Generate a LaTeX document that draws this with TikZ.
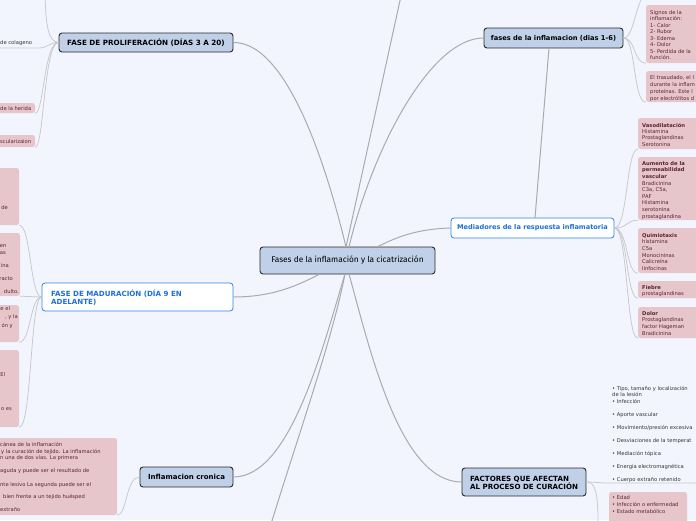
\documentclass[tikz,border=0pt]{standalone}
\usepackage{fontspec}
\setmainfont{DejaVu Sans}
\newfontfamily\handfont{Fira Sans}
\usetikzlibrary{fit}
\definecolor{bg}{HTML}{F2F5FE}
\definecolor{nodefill}{HTML}{BFD0E8}
\definecolor{nodeborder}{HTML}{2A2A2A}
\definecolor{blueb}{HTML}{2E86E6}
\definecolor{bluetext}{HTML}{1E6FD6}
\definecolor{pinkfill}{HTML}{E7C6CB}
\definecolor{pinktext}{HTML}{5A2331}
\definecolor{linegrey}{HTML}{C8C8CA}
\definecolor{maingrey}{HTML}{ABABAE}
\definecolor{plaintext}{HTML}{333333}
\newcommand{\fls}{\rule{0pt}{5pt}}
\newcommand{\flb}{\rule{0pt}{7pt}}
\begin{document}
\begin{tikzpicture}[x=1pt,y=-1pt,
  mainbox/.style={draw=nodeborder, line width=0.9pt, fill=nodefill, rounded corners=3pt, inner sep=0pt},
  bluebox/.style={draw=blueb, line width=0.8pt, fill=white, rounded corners=3pt, inner sep=0pt},
  pinkbox/.style={fill=pinkfill, rounded corners=2.5pt, inner sep=0pt},
  lbl/.style={font=\fontsize{7}{8}\selectfont\bfseries, text=black, inner sep=0pt},
  bluelbl/.style={font=\fontsize{6.6}{8}\selectfont\bfseries, text=bluetext, inner sep=0pt},
  ptext/.style={font=\fontsize{5.2}{6.5}\selectfont, text=pinktext, align=left, inner sep=0pt, anchor=north west},
  ftext/.style={font=\fontsize{5.2}{6.5}\selectfont, text=pinktext, inner sep=0pt},
  gtext/.style={font=\fontsize{5.2}{6.5}\selectfont, text=plaintext, align=left, inner sep=0pt, anchor=north west},
  conn/.style={draw=linegrey, line width=0.75pt},
  mainconn/.style={draw=maingrey, line width=1pt}]
\useasboundingbox (0,0) rectangle (696,520);
\fill[bg] (0,0) rectangle (696,520);
\clip (0,0) rectangle (696,520);

% ---------- main nodes ----------
\node[mainbox, fit={(260,247)(435,274)}] (center) {};
\node[font=\handfont\fontsize{8.3}{9}\selectfont, inner sep=0pt] (centertext) at (center) {Fases de la inflamación y la cicatrización};

\node[mainbox, fit={(59,33)(233,52)}] (prolif) {};
\node[lbl, font=\fontsize{7.2}{8}\selectfont\bfseries] (prolifl) at (prolif) {FASE DE PROLIFERACIÓN (DÍAS 3 A 20)};

\node[mainbox, fit={(484,28)(623,48)}] (fases) {};
\node[lbl, font=\fontsize{6.7}{8}\selectfont\bfseries] (fasesl) at (fases) {fases de la inflamacion (dias 1-6)};

\node[bluebox, fit={(451,218)(614,238)}] (medi) {};
\node[bluelbl] (medil) at (medi) {Mediadores de la respuesta inflamatoria};

\node[bluebox, fit={(42,283)(233,311)}] (madur) {};
\node[bluelbl, align=left, anchor=north west, font=\fontsize{7.1}{8}\selectfont\bfseries] (madurl) at (51,289.5) {\flb FASE DE MADURACIÓN (DÍA 9 EN\\ADELANTE)};

\node[mainbox, fit={(140,467)(233,487)}] (cronica) {};
\node[lbl] (cronical) at (cronica) {Inflamacion cronica};

\node[mainbox, fit={(462,468)(586,496)}] (factores) {};
\node[lbl, align=left, anchor=north west, font=\fontsize{7.1}{8}\selectfont\bfseries] (factoresl) at (470,474) {\flb FACTORES QUE AFECTAN\\AL PROCESO DE CURACIÓN};

% ---------- junction coordinates ----------
\coordinate (ctop1) at (346,247);
\coordinate (ctop2) at (349,247);
\coordinate (ctopm) at (377,247);
\coordinate (cbot1) at (320,274);
\coordinate (cbot2) at (345,274);
\coordinate (cbot3) at (349,274);
\coordinate (topend) at (401,-4);
\coordinate (botend) at (271,524);

% ---------- main connectors ----------
\draw[mainconn] (ctop1) -- (topend);
\draw[mainconn] (prolif.east) .. controls (290,42) and (330,180) .. (ctop1);
\draw[mainconn] (fases.west) .. controls (430,38) and (372,150) .. (ctop2);
\draw[mainconn] (medi.west) .. controls (415,229) and (395,238) .. (ctopm);
\draw[mainconn] (madur.east) .. controls (275,297) and (300,284) .. (cbot1);
\draw[mainconn] (cronica.east) .. controls (290,477) and (322,350) .. (cbot2);
\draw[mainconn] (cbot2) .. controls (332,340) and (300,430) .. (botend);
\draw[mainconn] (factores.west) .. controls (400,482) and (370,350) .. (cbot3);
\coordinate (fs) at (549,48);
\coordinate (mn) at (535,218);
\draw[mainconn] (fs) -- (mn);

% ---------- left: proliferacion children ----------
\node[pinkbox, fit={(-10,103)(35,113)}] (herida) {};
\node[ftext, anchor=base west] (heridat) at (0,110.5) {de la herida};
\node[pinkbox, fit={(-10,135)(35,147)}] (vascu) {};
\node[ftext, anchor=base west] (vascut) at (0,143) {scularizaion};
\node[ftext, text=plaintext, anchor=base west] (colageno) at (0,44) {de colageno};
\coordinate (colend) at (40,48);
\coordinate (prolup) at (45,-4);

\draw[conn] (prolif.west) .. controls (48,42) and (46,25) .. (prolup);
\draw[conn] (prolif.west) .. controls (50,42) and (47,48) .. (colend) -- (0,48);
\draw[conn] (prolif.west) .. controls (44,42) and (44,113) .. (herida.south east);
\draw[conn] (prolif.west) .. controls (44,42) and (44,147) .. (vascu.south east);

% ---------- left: maduracion children ----------
\node[pinkbox, fit={(-10,168)(19,225)}] (m1) {};
\node[ftext, anchor=base east] (m1a) at (8,209) {de};
\node[pinkbox, fit={(-10,233)(20,296)}] (m2) {};
\node[ftext, anchor=base east] (m2a) at (6.5,247) {en};
\node[ftext, anchor=base east] (m2b) at (6,254) {as};
\node[ftext, anchor=base east] (m2c) at (9,267) {ina};
\node[ftext, anchor=base east] (m2d) at (13,280) {racto};
\node[ftext, anchor=base east] (m2e) at (19,293) {dulto.};
\node[pinkbox, fit={(-10,305)(19,342)}] (m3) {};
\node[ftext, anchor=base west] (m3a) at (0.3,310) {e el};
\node[ftext, anchor=base east] (m3b) at (18,318.5) {, y la};
\node[ftext, anchor=base east] (m3c) at (13,327) {ón y};
\node[pinkbox, fit={(-10,350)(19,427)}] (m4) {};
\node[ftext, anchor=base west] (m4a) at (0.3,376.5) {El};
\node[ftext, anchor=base east] (m4b) at (12,410.5) {o es};

\draw[conn] (madur.west) .. controls (30,297) and (31,225) .. (m1.south east);
\draw[conn] (madur.west) -- (m2.south east);
\draw[conn] (madur.west) .. controls (30,297) and (31,342) .. (m3.south east);
\draw[conn] (madur.west) .. controls (30,297) and (32,427) .. (m4.south east);

% ---------- left: cronica child ----------
\node[pinkbox, fit={(-10,438)(117,515)}] (cr) {};
\node[ftext, anchor=base west] (cr1) at (0,446) {cánea de la inflamación};
\node[ftext, anchor=base west] (cr2) at (1,453) {y la curación de tejido. La inflamación};
\node[ftext, anchor=base west] (cr3) at (0,459.5) {n una de dos vías. La primera};
\node[ftext, anchor=base west] (cr4) at (0,472) {aguda y puede ser el resultado de};
\node[ftext, anchor=base west] (cr5) at (0,486) {nte lesivo La segunda puede ser el};
\node[ftext, anchor=base west] (cr6) at (3,498) {bien frente a un tejido huésped};
\node[ftext, anchor=base west] (cr7) at (0,511) {extraño};
\draw[conn] (cronica.west) .. controls (126,477) and (127,515) .. (cr.south east);

% ---------- right: fases children ----------
\node[pinkbox, fit={(646,5)(705,63)}] (signos) {};
\node[ptext] (signost) at (650,9) {\fls Signos de la\\inflamación:\\1- Calor\\2- Rubor\\3- Edema\\4- Dolor\\5- Perdida de la\\función.};
\node[pinkbox, fit={(646,71)(705,102)}] (trasu) {};
\node[ptext, font=\fontsize{5.2}{7}\selectfont] (trasut) at (650,74) {\fls El trasudado, el l\\durante la inflam\\proteínas. Este l\\por electrólitos d};
\coordinate (fasesup) at (643,-4);
\draw[conn] (fases.east) .. controls (633,38) and (634,12) .. (fasesup);
\draw[conn] (fases.east) .. controls (636,38) and (633,63) .. (signos.south west);
\draw[conn] (fases.east) .. controls (636,38) and (633,102) .. (trasu.south west);

% ---------- right: mediadores children ----------
\node[pinkbox, fit={(638,118)(705,149)}] (vaso) {};
\node[ptext, font=\fontsize{5.2}{6.3}\selectfont] (vasot) at (642,122) {\fls\textbf{Vasodilatación}\\Histamina\\Prostaglandinas\\Serotonina};
\node[pinkbox, fit={(638,157)(705,220)}] (aum) {};
\node[ptext, font=\fontsize{5.2}{6.6}\selectfont] (aumt) at (642,160) {\fls\textbf{Aumento de la}\\\textbf{permeabilidad}\\\textbf{vascular}\\Bradicinina\\C3a, C5a,\\PAF\\Histamina\\serotonina\\prostaglandina};
\node[pinkbox, fit={(638,228)(705,273)}] (quimio) {};
\node[ptext, font=\fontsize{5.2}{6.6}\selectfont] (quimiot) at (642,232) {\fls\textbf{Quimiotaxis}\\histamina\\C5a\\Monocininas\\Calicreína\\linfocinas};
\node[pinkbox, fit={(638,281)(705,298)}] (fiebre) {};
\node[ptext, font=\fontsize{5.2}{6.6}\selectfont] (fiebret) at (642,284) {\fls\textbf{Fiebre}\\prostaglandinas};
\node[pinkbox, fit={(638,307)(705,338)}] (dolor) {};
\node[ptext, font=\fontsize{5.2}{6.6}\selectfont] (dolort) at (642,310) {\fls\textbf{Dolor}\\Prostaglandinas\\factor Hageman\\Bradicinina};
\foreach \b in {vaso,aum,quimio,fiebre,dolor}
  \draw[conn] (medi.east) .. controls (628,228) and (626,0 |- \b.south west) .. (\b.south west);

% ---------- right: factores children ----------
\node[gtext] (factlist) at (612,385) {\fls • Tipo, tamaño y localización\\de la lesión\\• Infección\\[6.5pt]• Aporte vascular\\[6.5pt]• Movimiento/presión excesiva\\[6.5pt]• Desviaciones de la temperat\\[6.5pt]• Mediación tópica\\[6.5pt]• Energía electromagnética\\[6.5pt]• Cuerpo extraño retenido};
\coordinate (undstart) at (608,483);
\coordinate (undend) at (700,483);
\node[pinkbox, fit={(609,492)(687,530)}] (edad) {};
\node[ptext, font=\fontsize{5.2}{7}\selectfont] (edadt) at (612,494) {\fls • Edad\\• Infección o enfermedad\\• Estado metabólico};
\coordinate (factdown) at (598,524);
\draw[conn] (factores.east) .. controls (595,482) and (600,483) .. (undstart) -- (undend);
\draw[conn] (factores.east) .. controls (596,482) and (598,495) .. (factdown);
\end{tikzpicture}
\end{document}
